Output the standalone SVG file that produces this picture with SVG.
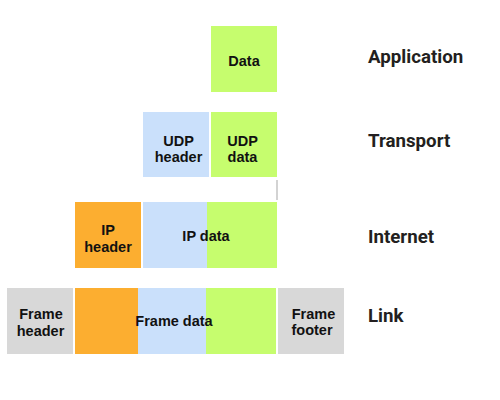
<svg xmlns="http://www.w3.org/2000/svg" width="500" height="400" viewBox="0 0 500 400">
<style>
.g{fill:#c6fd6e}
.b{fill:#cae0fb}
.o{fill:#fcae30}
.s{fill:#d8d8d8}
.t{font-family:"Liberation Sans",Arial,sans-serif;font-weight:bold;font-size:14.5px;fill:#111;text-anchor:middle}
.l{font-family:Roboto,"Liberation Sans",sans-serif;font-weight:bold;font-size:18.7px;fill:#231f20}
</style>
<rect width="500" height="400" fill="#fff"/>
<g id="application">
<rect class="g" x="211" y="26" width="66" height="66"/>
<text class="t" x="244" y="66">Data</text>
</g>
<g id="transport">
<rect id="udp-header" class="b" x="143" y="112" width="66" height="65"/>
<text class="t" x="178.5" y="146">UDP</text>
<text class="t" x="178.5" y="162">header</text>
<rect id="udp-data" class="g" x="211" y="112" width="66" height="65"/>
<text class="t" x="242.5" y="146">UDP</text>
<text class="t" x="242.5" y="162">data</text>
</g>
<g id="connectors">
<line x1="277" y1="180" x2="277" y2="200" stroke="#c4c4c4" stroke-width="1.5"/>
</g>
<g id="internet">
<rect id="ip-header" class="o" x="75" y="202" width="66" height="66"/>
<text class="t" x="108" y="235">IP</text>
<text class="t" x="108" y="251.5">header</text>
<rect class="b" x="143" y="202" width="64" height="66"/>
<rect class="g" x="207" y="202" width="70" height="66"/>
<text class="t" x="206" y="240.5">IP data</text>
</g>
<g id="link">
<rect id="frame-header" class="s" x="7" y="288" width="66" height="66"/>
<text class="t" x="41" y="319">Frame</text>
<text class="t" x="40.5" y="335.5">header</text>
<rect class="o" x="75" y="288" width="63" height="66"/>
<rect class="b" x="138" y="288" width="68" height="66"/>
<rect class="g" x="206" y="288" width="70" height="66"/>
<text class="t" x="174" y="326">Frame data</text>
<rect id="frame-footer" class="s" x="278" y="288" width="66" height="66"/>
<text class="t" x="313.5" y="318.5">Frame</text>
<text class="t" x="312" y="335">footer</text>
</g>
<g id="layers">
<text class="l" x="368" y="63">Application</text>
<text class="l" x="368" y="147">Transport</text>
<text class="l" x="368" y="243">Internet</text>
<text class="l" x="368" y="321.5">Link</text>
</g>
</svg>
